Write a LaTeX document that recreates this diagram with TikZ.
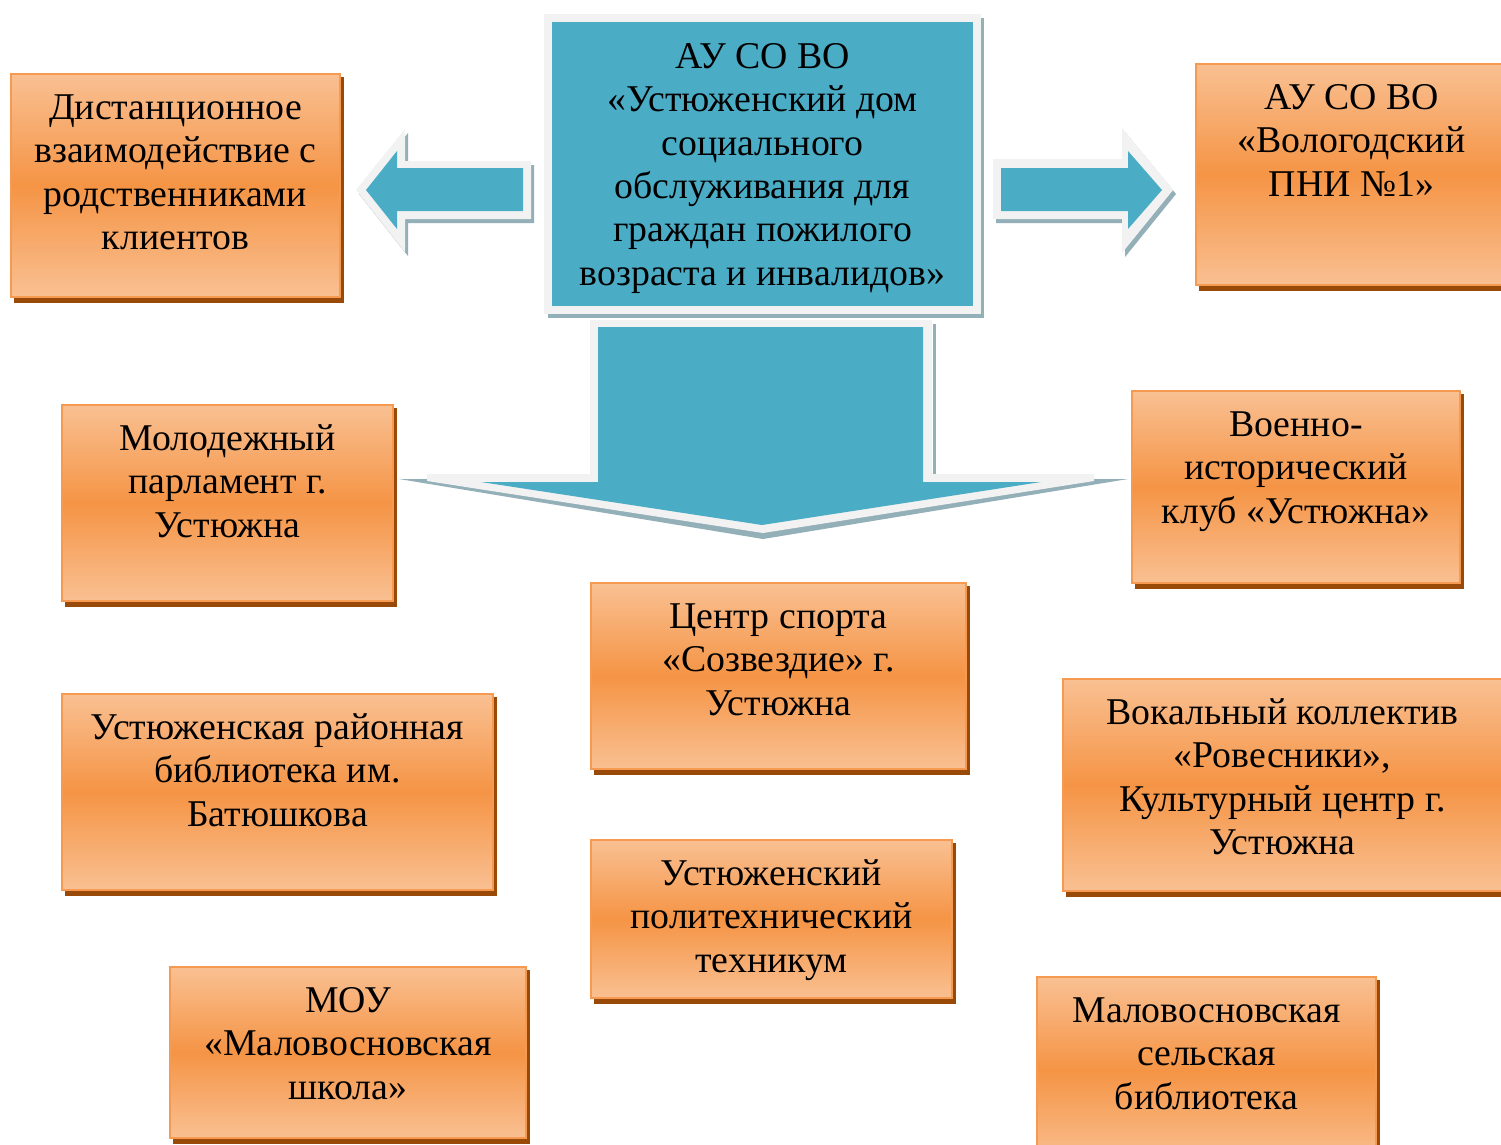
\documentclass[tikz,border=0pt]{standalone}
\usepackage{fontspec}
\setmainfont{Liberation Serif}
\definecolor{blueF}{HTML}{4BACC6}
\definecolor{frameG}{HTML}{F2F2F2}
\definecolor{shadG}{HTML}{93AFB8}
\definecolor{orLight}{HTML}{F9C092}
\definecolor{orMid}{HTML}{F59445}
\definecolor{orEdge}{HTML}{F59A50}
\definecolor{orShadow}{HTML}{9A4A08}
\tikzset{
  orbox/.style={draw=orEdge, line width=2pt, top color=orLight, bottom color=orLight, middle color=orMid, rectangle, inner sep=0pt, outer sep=0pt},
  boxtext/.style={anchor=north, align=center, inner sep=0pt, font=\fontsize{37.8}{43.3}\selectfont},
  plainbox/.style={rectangle, inner sep=0pt, outer sep=0pt, draw=none},
}
\newcommand\obox[6]{%
  \fill[orShadow] ({#2+4},{#3+4}) rectangle ({#4+3},{#5+5});
  \node[orbox, minimum width={(#4-#2-2)*1pt}, minimum height={(#5-#3-2)*1pt}] (#1) at ({(#2+#4)/2},{(#3+#5)/2}) {};
  \node[boxtext] (#1-t) at ({(#2+#4)/2},{#3+16}) {\strut #6};
}
\begin{document}
\begin{tikzpicture}[x=1pt,y=-1pt]
\useasboundingbox (0,0) rectangle (1501,1144);
\clip (0,0) rectangle (1501,1144);
\fill[white] (0,0) rectangle (1501,1144);

% down arrow
\fill[shadG] (933,324) rectangle (936,480);
\fill[shadG] (399,479) -- (1128,479) -- (763,539) -- cycle;
\fill[frameG] (590,320) -- (932,320) -- (932,474) -- (1094,474) -- (1094,481) -- (763,533) -- (427,481) -- (427,474) -- (590,474) -- cycle;
\fill[blueF] (598,327) -- (923,327) -- (923,482) -- (1041,482) -- (762,525) -- (481,482) -- (598,482) -- cycle;

% left arrow
\begin{scope}[shift={(3,4)}]
\fill[shadG] (356,190) -- (405,129) -- (405,161) -- (531,161) -- (531,219) -- (405,219) -- (405,252) -- cycle;
\end{scope}
\fill[frameG] (356,190) -- (405,129) -- (405,161) -- (531,161) -- (531,219) -- (405,219) -- (405,252) -- cycle;
\fill[blueF] (366,190) -- (397,151) -- (397,168) -- (523,168) -- (523,211) -- (397,211) -- (397,229) -- cycle;

% right arrow
\begin{scope}[shift={(3,4)}]
\fill[shadG] (993,159) -- (1122,159) -- (1122,128) -- (1173,190) -- (1122,253) -- (1122,219) -- (993,219) -- cycle;
\end{scope}
\fill[frameG] (993,159) -- (1122,159) -- (1122,128) -- (1173,190) -- (1122,253) -- (1122,219) -- (993,219) -- cycle;
\fill[blueF] (1001,168) -- (1128,168) -- (1128,151) -- (1162,190) -- (1128,229) -- (1128,211) -- (1001,211) -- cycle;

% center box
\fill[shadG] (548,18) rectangle (984,318);
\node[plainbox, fill=frameG, minimum width=437pt, minimum height=300pt] (ctrframe) at (762.5,164) {};
\node[plainbox, fill=blueF, minimum width=421pt, minimum height=284pt] (ctr) at (762.5,164) {};
\node[boxtext] (ctr-t) at (762.5,38) {\strut АУ СО ВО\\«Устюженский дом\\социального\\обслуживания для\\граждан пожилого\\возраста и инвалидов»};

% orange boxes
\obox{dist}{10}{73}{341}{298}{Дистанционное\\взаимодействие с\\родственниками\\клиентов}
\obox{vologda}{1195}{63}{1508}{286}{АУ СО ВО\\«Вологодский\\ПНИ №1»}
\obox{molod}{61}{404}{394}{602}{Молодежный\\парламент г.\\Устюжна}
\obox{voen}{1131}{390}{1461}{584}{Военно-\\исторический\\клуб «Устюжна»}
\obox{sport}{590}{582}{967}{770}{Центр спорта\\«Созвездие» г.\\Устюжна}
\obox{biblio}{61}{693}{494}{891}{Устюженская районная\\библиотека им.\\Батюшкова}
\obox{vokal}{1062}{678}{1503}{892}{Вокальный коллектив\\«Ровесники»,\\Культурный центр г.\\Устюжна}
\obox{tech}{590}{839}{953}{999}{Устюженский\\политехнический\\техникум}
\obox{mou}{169}{966}{527}{1139}{МОУ\\«Маловосновская\\школа»}
\obox{selbib}{1036}{976}{1377}{1165}{Маловосновская\\сельская\\библиотека}
\end{tikzpicture}
\end{document}
